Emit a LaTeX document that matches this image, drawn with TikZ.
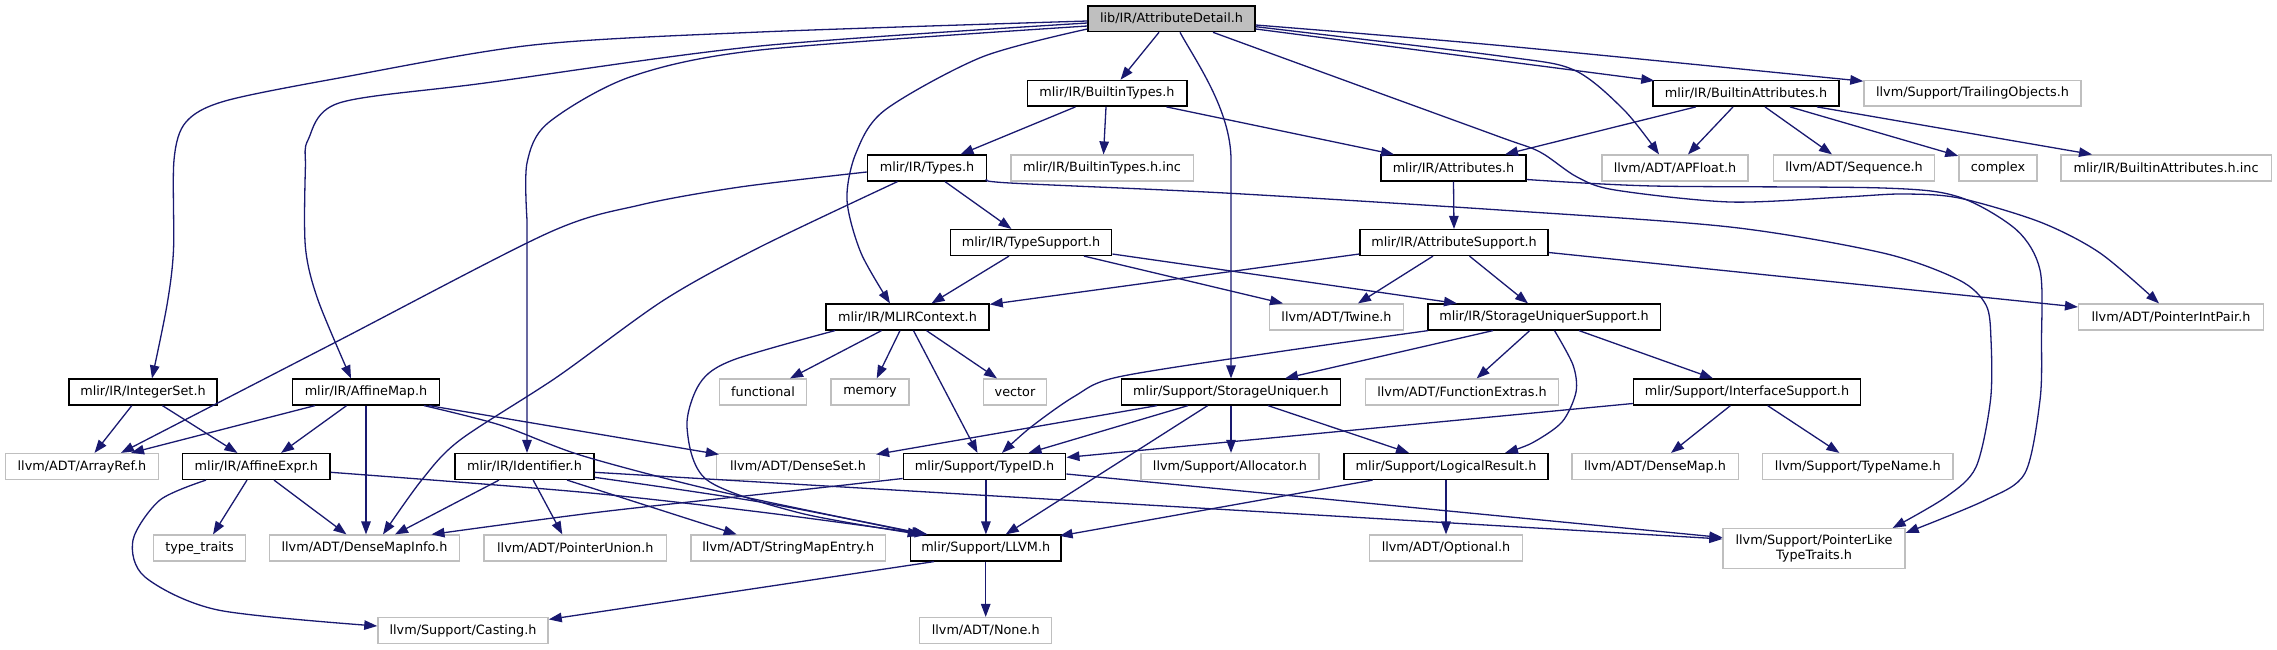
\documentclass[tikz,border=0pt]{standalone}
\usepackage{fontspec}
\setmainfont{DejaVu Sans}
\usetikzlibrary{arrows.meta}
\definecolor{lgray}{HTML}{BFBFBF}
\definecolor{navy}{HTML}{191970}
\tikzset{
  nd/.style={draw, line width=1.5pt, minimum height=25.7pt, inner sep=0pt, align=center, anchor=center, text=black, font=\fontsize{12.8}{15}\selectfont},
  gn/.style={nd, draw=lgray},
  bn/.style={nd, draw=black},
  rn/.style={bn, fill=lgray},
  ed/.style={draw=navy, line width=1.3pt, -{Triangle[length=13pt,width=9.5pt]}},
}
\begin{document}
\begin{tikzpicture}[x=1pt,y=-1pt]
\useasboundingbox (0,0) rectangle (2277,649);
% nodes
\node[rn, minimum width=167pt] (root) at (1171.5,18.7) {lib/IR/AttributeDetail.h};
\node[bn, minimum width=159.5pt] (btypes) at (1107,93.3) {mlir/IR/BuiltinTypes.h};
\node[bn, minimum width=186pt] (battrs) at (1746,93.3) {mlir/IR/BuiltinAttributes.h};
\node[gn, minimum width=217pt] (trail) at (1972.5,93.3) {llvm/Support/TrailingObjects.h};
\node[bn, minimum width=119pt] (types) at (927,168) {mlir/IR/Types.h};
\node[gn, minimum width=182.5pt] (btinc) at (1102,168) {mlir/IR/BuiltinTypes.h.inc};
\node[bn, minimum width=145pt] (attrs) at (1453.5,168) {mlir/IR/Attributes.h};
\node[gn, minimum width=146.4pt] (apfloat) at (1675,168) {llvm/ADT/APFloat.h};
\node[gn, minimum width=161pt] (seq) at (1854,168) {llvm/ADT/Sequence.h};
\node[gn, minimum width=78pt] (complex) at (1998,168) {complex};
\node[gn, minimum width=210.5pt] (bainc) at (2166,168) {mlir/IR/BuiltinAttributes.h.inc};
\node[bn, minimum width=161.4pt] (tsupp) at (1031,242.5) {mlir/IR/TypeSupport.h};
\node[bn, minimum width=188pt] (asupp) at (1454,242.5) {mlir/IR/AttributeSupport.h};
\node[bn, minimum width=163pt] (ctx) at (907.5,317) {mlir/IR/MLIRContext.h};
\node[gn, minimum width=134pt] (twine) at (1336.5,317) {llvm/ADT/Twine.h};
\node[bn, minimum width=232.5pt] (sus) at (1544,317) {mlir/IR/StorageUniquerSupport.h};
\node[gn, minimum width=184.6pt] (pip) at (2171,317) {llvm/ADT/PointerIntPair.h};
\node[bn, minimum width=148pt] (iset) at (143,392) {mlir/IR/IntegerSet.h};
\node[bn, minimum width=147pt] (amap) at (366,392) {mlir/IR/AffineMap.h};
\node[gn, minimum width=86.6pt] (func) at (763,392) {functional};
\node[gn, minimum width=77.6pt] (mem) at (870,392) {memory};
\node[gn, minimum width=63pt] (vec) at (1015,392) {vector};
\node[bn, minimum width=219pt] (su) at (1231,392) {mlir/Support/StorageUniquer.h};
\node[gn, minimum width=193pt] (fext) at (1462,392) {llvm/ADT/FunctionExtras.h};
\node[bn, minimum width=227pt] (isupp) at (1747,392) {mlir/Support/InterfaceSupport.h};
\node[gn, minimum width=153pt] (aref) at (82,466.5) {llvm/ADT/ArrayRef.h};
\node[bn, minimum width=147.4pt] (aexpr) at (256.4,466.5) {mlir/IR/AffineExpr.h};
\node[bn, minimum width=138.7pt] (ident) at (524.5,466.5) {mlir/IR/Identifier.h};
\node[gn, minimum width=162.7pt] (dset) at (798,466.5) {llvm/ADT/DenseSet.h};
\node[bn, minimum width=162.4pt] (tid) at (984.5,466.5) {mlir/Support/TypeID.h};
\node[gn, minimum width=178.4pt] (alloc) at (1230,466.5) {llvm/Support/Allocator.h};
\node[bn, minimum width=204pt] (lres) at (1446,466.5) {mlir/Support/LogicalResult.h};
\node[gn, minimum width=166.5pt] (dmap) at (1655,466.5) {llvm/ADT/DenseMap.h};
\node[gn, minimum width=190.3pt] (tname) at (1857.8,466.5) {llvm/Support/TypeName.h};
\node[gn, minimum width=91.6pt] (ttraits) at (199.5,548) {type\_traits};
\node[gn, minimum width=190pt] (dmi) at (364.5,548) {llvm/ADT/DenseMapInfo.h};
\node[gn, minimum width=182.3pt] (punion) at (575.3,548) {llvm/ADT/PointerUnion.h};
\node[gn, minimum width=194.2pt] (sme) at (788.3,548) {llvm/ADT/StringMapEntry.h};
\node[bn, minimum width=150.3pt] (llvm) at (985.7,548) {mlir/Support/LLVM.h};
\node[gn, minimum width=152.7pt] (opt) at (1446,548) {llvm/ADT/Optional.h};
\node[gn, minimum width=181.8pt, minimum height=39.6pt] (ptlt) at (1814,548.5) {llvm/Support/PointerLike\\TypeTraits.h};
\node[gn, minimum width=170pt] (cast) at (463,630.5) {llvm/Support/Casting.h};
\node[gn, minimum width=132pt] (none) at (985.7,630.5) {llvm/ADT/None.h};
% edges from root
\draw[ed] ([xshift=-12.5pt]root.south) -- ([xshift=13.5pt]btypes.north);
\draw[ed] ([xshift=8.5pt]root.south) .. controls (1195,60) and (1231,110) .. (1231,160) -- (su.north);
\draw[ed] plot[smooth] coordinates {([yshift=-10.3pt]root.west) (982,57) (885,110) (856,153) (847,200) (861,253) ([xshift=-17.5pt]ctx.north)};
\draw[ed] plot[smooth] coordinates {([yshift=-2.3pt]root.west) (760,32) (533,45) (339,78) (225,101) (186,122) (174,160) (173.5,250) (167,305) ([xshift=9pt]iset.north)};
\draw[ed] plot[smooth] coordinates {([yshift=-4.3pt]root.west) (760,46) (485,83) (339,103) (308,140) (305.4,167) (305.4,247) (318,300) ([xshift=-15pt]amap.north)};
\draw[ed] plot[smooth] coordinates {([yshift=-7.3pt]root.west) (760,50) (630,77) (548,123) (527,163) (527,220)} -- ([xshift=2.5pt]ident.north);
\draw[ed] ([yshift=-10.3pt]root.east) -- ([xshift=2pt,yshift=-1pt]battrs.north west);
\draw[ed] plot[smooth] coordinates {([yshift=-6.3pt]root.east) (1500,45.5) ([yshift=-1.5pt]trail.north west)};
\draw[ed] plot[smooth] coordinates {([yshift=-8pt]root.east) (1500,56) (1574,70) (1624,110) ([xshift=-16pt]apfloat.north)};
\draw[ed] plot[smooth] coordinates {([xshift=41.5pt]root.south) (1360,86) (1500,137) (1540,152) (1577,177) (1615,190) (1730,202) (1844,197) (1902,194) (1959,198) (2040,222) (2100,253) ([xshift=-12pt]pip.north)};
% builtin types / attrs
\draw[ed] ([xshift=-31.6pt]btypes.south) -- ([xshift=33.5pt]types.north);
\draw[ed] ([xshift=-1pt]btypes.south) -- ([xshift=1.5pt]btinc.north);
\draw[ed] ([xshift=59.5pt]btypes.south) -- ([xshift=-59.5pt]attrs.north);
\draw[ed] ([xshift=-50.3pt]battrs.south) -- ([xshift=51.5pt]attrs.north);
\draw[ed] ([xshift=-13pt]battrs.south) -- ([xshift=13pt]apfloat.north);
\draw[ed] ([xshift=19pt]battrs.south) -- ([xshift=-22pt]seq.north);
\draw[ed] ([xshift=44pt]battrs.south) -- ([yshift=-1.5pt]complex.north west);
\draw[ed] ([xshift=71pt]battrs.south) -- ([xshift=-74pt]bainc.north);
% types
\draw[ed] plot[smooth] coordinates {([yshift=-4pt]types.west) (740,187) (640,205) (548,233) (334,343) ([xshift=39pt]aref.north)};
\draw[ed] plot[smooth] coordinates {([xshift=-29.5pt]types.south) (760,247) (664,300) (557,377) (460,440) (421.7,480) ([xshift=18.5pt]dmi.north)};
\draw[ed] ([xshift=18pt]types.south) -- ([xshift=-19.6pt]tsupp.north);
\draw[ed] plot[smooth] coordinates {([yshift=-11.5pt]types.east) (1010,183) (1225,193) (1500,210) (1730,227) (1883,253) (1959,280) (1986,305) (1991,340) (1990.5,400) (1976,467) (1946,497) ([xshift=-13pt]ptlt.north east)};
% attributes
\draw[ed] (attrs.south) -- (asupp.north);
\draw[ed] plot[smooth] coordinates {([yshift=-11.5pt]attrs.east) (1653,186) (1883,188) (1959,197) (2016.6,230) (2040,270) (2041.5,340) (2040,400) (2025,473) (1985.6,500) ([yshift=-5pt]ptlt.north east)};
% type support / attribute support
\draw[ed] ([xshift=-22pt]tsupp.south) -- ([xshift=24pt]ctx.north);
\draw[ed] ([xshift=53pt]tsupp.south) -- ([xshift=-53.5pt]twine.north);
\draw[ed] ([yshift=-11.5pt]tsupp.east) -- ([xshift=-87pt]sus.north);
\draw[ed] ([yshift=-11.5pt]asupp.west) -- ([yshift=-1pt]ctx.north east);
\draw[ed] ([xshift=-21pt]asupp.south) -- ([xshift=21.5pt]twine.north);
\draw[ed] ([xshift=15.5pt]asupp.south) -- ([xshift=-16pt]sus.north);
\draw[ed] ([yshift=-10pt]asupp.east) -- ([yshift=10pt]pip.west);
% context
\draw[ed] ([xshift=-26pt]ctx.south) -- ([xshift=27pt]func.north);
\draw[ed] ([xshift=-7.5pt]ctx.south) -- ([xshift=6.7pt]mem.north);
\draw[ed] ([xshift=19pt]ctx.south) -- ([xshift=-18pt]vec.north);
\draw[ed] ([xshift=6pt]ctx.south) -- ([xshift=-7pt]tid.north);
\draw[ed] plot[smooth] coordinates {([xshift=-72.5pt]ctx.south) (733,360) (700,383) (687,427) (707,480) (800,513) ([xshift=-65pt]llvm.north)};
% storage uniquer support
\draw[ed] ([xshift=-51pt]sus.south) -- ([xshift=54pt]su.north);
\draw[ed] plot[smooth] coordinates {([xshift=1pt]sus.south west) (1270,353) (1118,377) (1075,396) (1031,427) ([xshift=17.5pt]tid.north)};
\draw[ed] ([xshift=-14.3pt]sus.south) -- ([xshift=14.7pt]fext.north);
\draw[ed] plot[smooth] coordinates {([xshift=10.5pt]sus.south) (1573,365) (1576,392) (1562,422) (1532,443) ([xshift=59pt]lres.north)};
\draw[ed] ([xshift=35pt]sus.south) -- ([xshift=-34pt]isupp.north);
% storage uniquer
\draw[ed] ([xshift=-74pt]su.south) -- ([xshift=-4pt,yshift=-1.5pt]dset.north east);
\draw[ed] ([xshift=-43pt]su.south) -- ([xshift=44pt]tid.north);
\draw[ed] ([xshift=-23.3pt]su.south) -- ([xshift=20pt]llvm.north);
\draw[ed] (su.south) -- ([xshift=1pt]alloc.north);
\draw[ed] ([xshift=37pt]su.south) -- ([xshift=-37pt]lres.north);
% interface support
\draw[ed] ([yshift=-11.5pt]isupp.west) -- ([yshift=-4.5pt]tid.north east);
\draw[ed] ([xshift=-16.6pt]isupp.south) -- ([xshift=16pt]dmap.north);
\draw[ed] ([xshift=20.6pt]isupp.south) -- ([xshift=-18.4pt]tname.north);
% integer set / affine map
\draw[ed] ([xshift=-11.2pt]iset.south) -- ([xshift=12.5pt]aref.north);
\draw[ed] ([xshift=19.4pt]iset.south) -- ([xshift=-19pt]aexpr.north);
\draw[ed] ([xshift=-51pt]amap.south) -- ([xshift=49pt]aref.north);
\draw[ed] ([xshift=-19.4pt]amap.south) -- ([xshift=24.7pt]aexpr.north);
\draw[ed] (amap.south) -- ([xshift=1.5pt]dmi.north);
\draw[ed] ([xshift=63pt]amap.south) -- ([xshift=3pt,yshift=-1.5pt]dset.north west);
\draw[ed] plot[smooth] coordinates {([xshift=58pt]amap.south) (500,425) (580,455) (700,487) (830,515) ([xshift=-61pt]llvm.north)};
% affine expr
\draw[ed] ([xshift=-9.4pt]aexpr.south) -- ([xshift=13.5pt]ttraits.north);
\draw[ed] ([xshift=17.6pt]aexpr.south) -- ([xshift=-18pt]dmi.north);
\draw[ed] plot[smooth] coordinates {([xshift=-50.4pt]aexpr.south) (160,500) (133,540) (145,577) (218,610) ([yshift=4.5pt]cast.west)};
\draw[ed] plot[smooth] coordinates {([yshift=-5.8pt]aexpr.east) (580,492) (760,512) ([xshift=-58pt]llvm.north)};
% identifier
\draw[ed] plot[smooth] coordinates {([yshift=-10.8pt]ident.east) (760,502) ([xshift=-59.5pt]llvm.north)};
\draw[ed] ([yshift=-5.8pt]ident.east) -- ([yshift=9.5pt]ptlt.west);
\draw[ed] ([xshift=-25.5pt]ident.south) -- ([xshift=30.5pt]dmi.north);
\draw[ed] ([xshift=8.7pt]ident.south) -- ([xshift=-13pt]punion.north);
\draw[ed] ([xshift=42.6pt]ident.south) -- ([xshift=-51.6pt]sme.north);
% type id
\draw[ed] ([yshift=-7.5pt]tid.east) -- ([yshift=11pt]ptlt.west);
\draw[ed] plot[smooth] coordinates {([yshift=-12pt]tid.west) (800,490) (600,512) ([xshift=67pt]dmi.north)};
\draw[ed] ([xshift=1.4pt]tid.south) -- ([xshift=0.2pt]llvm.north);
% logical result, llvm
\draw[ed] ([xshift=-73.4pt]lres.south) -- ([xshift=-2pt,yshift=-1.5pt]llvm.north east);
\draw[ed] (lres.south) -- (opt.north);
\draw[ed] (llvm.south) -- (none.north);
\draw[ed] ([xshift=-51.7pt]llvm.south) -- ([yshift=-2.5pt]cast.north east);
\end{tikzpicture}
\end{document}
